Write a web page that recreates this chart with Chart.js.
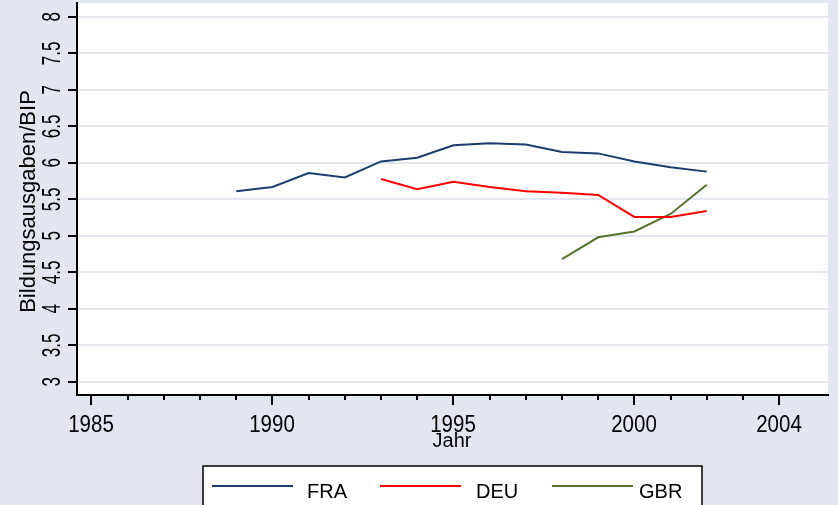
<!DOCTYPE html>
<html lang="de">
<head>
    <meta charset="UTF-8">
    <title>Bildungsausgaben/BIP</title>
    <script src="https://cdn.jsdelivr.net/npm/chart.js"></script>
    <style>
        body { margin: 0; background: #e2e6f1; }
        canvas { display: block; }
    </style>
</head>
<body>
    <canvas id="myChart" width="838" height="505"></canvas>
    <script>
        // data
        const fraYears = [1989, 1990, 1991, 1992, 1993, 1994, 1995, 1996, 1997, 1998, 1999, 2000, 2001, 2002];
        const fraValues = [5.61, 5.67, 5.86, 5.80, 6.02, 6.07, 6.24, 6.27, 6.25, 6.15, 6.13, 6.02, 5.94, 5.88];
        const deuYears = [1993, 1994, 1995, 1996, 1997, 1998, 1999, 2000, 2001, 2002];
        const deuValues = [5.78, 5.64, 5.74, 5.67, 5.61, 5.59, 5.56, 5.26, 5.26, 5.34];
        const gbrYears = [1998, 1999, 2000, 2001, 2002];
        const gbrValues = [4.68, 4.98, 5.06, 5.30, 5.70];

        const xMajorTicks = [1985, 1990, 1995, 2000, 2004];
        const xMinorTicks = [1986, 1987, 1988, 1989, 1991, 1992, 1993, 1994, 1996, 1997, 1998, 1999, 2001, 2002, 2003];
        const yTicks = [3, 3.5, 4, 4.5, 5, 5.5, 6, 6.5, 7, 7.5, 8];
        const yTickLabels = ['3', '3.5', '4', '4.5', '5', '5.5', '6', '6.5', '7', '7.5', '8'];

        const seriesNames = ['FRA', 'DEU', 'GBR'];
        const seriesColors = ['#1a3f6f', '#ff0000', '#55752f'];

        const FONT = '"Liberation Sans", Arial, sans-serif';

        function toPoints(xs, ys) {
            return xs.map((x, i) => ({ x: x, y: ys[i] }));
        }

        // text with a bit of vertical stretch, like the original renderer
        function drawText(ctx, text, x, y, size, sy, align, rotate) {
            ctx.save();
            ctx.translate(x, y);
            if (rotate) ctx.rotate(rotate);
            ctx.scale(1, sy);
            ctx.font = size + 'px ' + FONT;
            ctx.textAlign = align;
            ctx.textBaseline = 'alphabetic';
            ctx.fillStyle = '#000';
            ctx.fillText(text, 0, 0);
            ctx.restore();
        }

        const decorPlugin = {
            id: 'decor',
            beforeDraw(chart) {
                const ctx = chart.ctx;
                const a = chart.chartArea;
                ctx.save();
                ctx.fillStyle = '#e2e6f1';
                ctx.fillRect(0, 0, chart.width, chart.height);
                ctx.fillStyle = '#ffffff';
                ctx.fillRect(a.left, a.top, a.right - a.left, a.bottom - a.top);
                ctx.restore();
            },
            afterDraw(chart) {
                const ctx = chart.ctx;
                const a = chart.chartArea;
                const xs = chart.scales.x;
                const ys = chart.scales.y;
                ctx.save();

                // x tick marks (long majors, short minors)
                ctx.strokeStyle = '#000';
                ctx.lineWidth = 2;
                xMajorTicks.forEach(v => {
                    const px = Math.round(xs.getPixelForValue(v));
                    ctx.beginPath();
                    ctx.moveTo(px, a.bottom);
                    ctx.lineTo(px, a.bottom + 10);
                    ctx.stroke();
                    drawText(ctx, String(v), px, 432, 20.5, 1.17, 'center', 0);
                });
                xMinorTicks.forEach(v => {
                    const px = Math.round(xs.getPixelForValue(v));
                    ctx.beginPath();
                    ctx.moveTo(px, a.bottom);
                    ctx.lineTo(px, a.bottom + 5);
                    ctx.stroke();
                });

                // rotated y tick labels
                yTicks.forEach((v, i) => {
                    const py = ys.getPixelForValue(v);
                    drawText(ctx, yTickLabels[i], 59.5, py, 17, 1.5, 'center', -Math.PI / 2);
                });

                // axis titles
                drawText(ctx, 'Bildungsausgaben/BIP', 35, 201.5, 22, 1, 'center', -Math.PI / 2);
                drawText(ctx, 'Jahr', 452, 447, 20, 1.05, 'center', 0);

                // legend box
                ctx.fillStyle = '#ffffff';
                ctx.fillRect(203, 466, 499, 42);
                ctx.strokeStyle = '#000';
                ctx.lineWidth = 1.5;
                ctx.strokeRect(203, 466, 499, 42);
                const lineStarts = [212, 380, 552];
                const textStarts = [307, 476, 639];
                seriesNames.forEach((name, i) => {
                    ctx.strokeStyle = seriesColors[i];
                    ctx.lineWidth = 2;
                    ctx.beginPath();
                    ctx.moveTo(lineStarts[i], 486);
                    ctx.lineTo(lineStarts[i] + 81, 486);
                    ctx.stroke();
                    drawText(ctx, name, textStarts[i], 498, 20, 1.05, 'left', 0);
                });

                ctx.restore();
            }
        };

        const data = {
            datasets: [
                { label: 'FRA', data: toPoints(fraYears, fraValues), borderColor: seriesColors[0] },
                { label: 'DEU', data: toPoints(deuYears, deuValues), borderColor: seriesColors[1] },
                { label: 'GBR', data: toPoints(gbrYears, gbrValues), borderColor: seriesColors[2] }
            ].map(d => Object.assign(d, {
                borderWidth: 2,
                pointRadius: 0,
                fill: false,
                tension: 0
            }))
        };

        const config = {
            type: 'line',
            data: data,
            options: {
                responsive: false,
                animation: false,
                devicePixelRatio: 1,
                layout: { padding: { left: 0, right: 10, top: 3, bottom: 0 } },
                plugins: {
                    legend: { display: false },
                    tooltip: { enabled: false }
                },
                scales: {
                    x: {
                        type: 'linear',
                        min: 1984.6,
                        max: 2005.35,
                        afterBuildTicks: (scale) => {
                            scale.ticks = xMajorTicks.map(v => ({ value: v }));
                        },
                        afterFit: (scale) => { scale.height = 110; },
                        grid: { display: false },
                        border: { display: true, color: '#000', width: 2 },
                        ticks: { display: false }
                    },
                    y: {
                        type: 'linear',
                        min: 2.82,
                        max: 8.19,
                        afterBuildTicks: (scale) => {
                            scale.ticks = yTicks.map(v => ({ value: v }));
                        },
                        afterFit: (scale) => { scale.width = 77; },
                        grid: {
                            color: '#e1e6f0',
                            lineWidth: 2,
                            tickColor: '#000',
                            tickLength: 9,
                            drawTicks: true
                        },
                        border: { display: true, color: '#000', width: 2 },
                        ticks: { display: false }
                    }
                }
            },
            plugins: [decorPlugin]
        };

        const ctx = document.getElementById('myChart').getContext('2d');
        const myChart = new Chart(ctx, config);
    </script>
</body>
</html>
